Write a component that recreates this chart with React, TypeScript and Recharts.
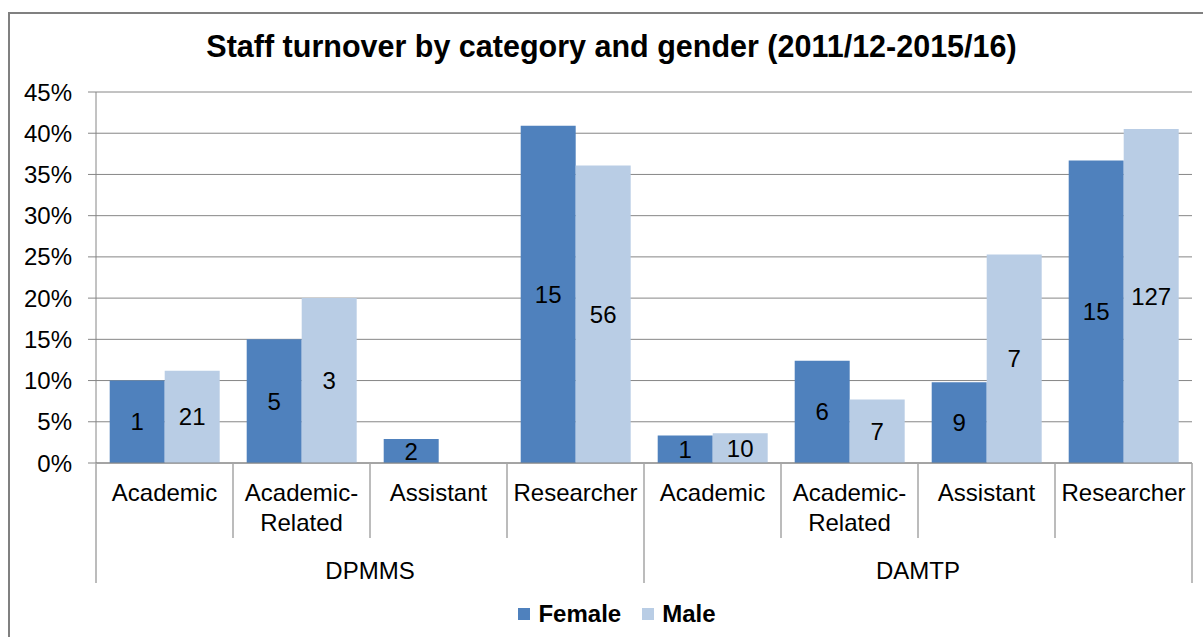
import { BarChart, Bar, XAxis, YAxis, CartesianGrid, LabelList } from 'recharts';

const FONT = '"Liberation Sans", Arial, sans-serif';
const GRID = '#868686';
const SEP = '#a6a6a6';

const GROUPS = ['DPMMS', 'DAMTP'];
const SUBCATS = ['Academic', 'Academic-Related', 'Assistant', 'Researcher'];
const FEMALE_PCT = [10, 15, 2.9, 40.9, 3.35, 12.4, 9.8, 36.7];
const MALE_PCT = [11.2, 20, 0, 36.1, 3.6, 7.7, 25.3, 40.5];
const FEMALE_N = [1, 5, 2, 15, 1, 6, 9, 15];
const MALE_N = [21, 3, null, 56, 10, 7, 7, 127];
const Y_TICKS = [0, 5, 10, 15, 20, 25, 30, 35, 40, 45];

const SERIES = [
  { key: 'female', name: 'Female', color: '#4F81BD' },
  { key: 'male', name: 'Male', color: '#B9CDE5' },
];

const data = GROUPS.flatMap((g, gi) =>
  SUBCATS.map((c, ci) => {
    const i = gi * SUBCATS.length + ci;
    return {
      key: `${g}|${c}`,
      group: g,
      cat: c,
      female: FEMALE_PCT[i],
      male: MALE_PCT[i],
      femaleN: FEMALE_N[i],
      maleN: MALE_N[i],
    };
  })
);

const W = 1203;
const H = 637;
const MARGIN = { top: 92, right: 11, bottom: 54, left: 0 };
const Y_WIDTH = 96;
const BAND = (W - MARGIN.left - MARGIN.right - Y_WIDTH) / data.length;

const CategoryTick = (props: any) => {
  const { x, y, payload } = props;
  const i: number = payload?.index ?? props.index ?? 0;
  const row = data[i];
  const lines = row.cat.includes('-') ? [row.cat.split('-')[0] + '-', row.cat.split('-')[1]] : [row.cat];
  const left = x - BAND / 2;
  const first = i % SUBCATS.length === 0;
  const last = i === data.length - 1;
  return (
    <g>
      <line x1={left} x2={left} y1={y} y2={y + (first ? 120 : 75)} stroke={SEP} strokeWidth={1.5} />
      {last && <line x1={x + BAND / 2} x2={x + BAND / 2} y1={y} y2={y + 120} stroke={SEP} strokeWidth={1.5} />}
      {lines.map((t, k) => (
        <text key={k} x={x} y={y + 38 + k * 30} textAnchor="middle" fill="#000" fontSize={24} fontFamily={FONT}>
          {t}
        </text>
      ))}
      {first && (
        <text x={left + (BAND * SUBCATS.length) / 2} y={y + 116} textAnchor="middle" fill="#000" fontSize={24} fontFamily={FONT}>
          {row.group}
        </text>
      )}
    </g>
  );
};

export default function App() {
  return (
    <div style={{ position: 'absolute', left: 0, top: 0, width: W, height: H, background: '#fff', overflow: 'hidden', fontFamily: FONT }}>
      <div style={{ position: 'absolute', left: 8, top: 12, width: W, height: H, borderTop: '2px solid #808080', borderLeft: '2px solid #808080' }} />
      <BarChart width={W} height={H} data={data} margin={MARGIN} barCategoryGap="10%" barGap={0}>
        <CartesianGrid vertical={false} stroke={GRID} />
        <XAxis
          dataKey="key"
          interval={0}
          tickLine={false}
          tickSize={0}
          tickMargin={0}
          height={120}
          axisLine={{ stroke: GRID }}
          tick={(p: any) => <CategoryTick {...p} />}
        />
        <YAxis
          width={Y_WIDTH}
          domain={[0, 45]}
          ticks={Y_TICKS}
          interval={0}
          tickFormatter={(v: number) => `${v}%`}
          tickSize={8}
          tickMargin={16}
          axisLine={{ stroke: GRID }}
          tickLine={{ stroke: GRID }}
          tick={{ fill: '#000', fontSize: 24, fontFamily: FONT }}
        />
        <Bar dataKey="female" name="Female" fill={SERIES[0].color} isAnimationActive={false}>
          <LabelList dataKey="femaleN" position="center" fill="#000" fontSize={24} fontFamily={FONT} />
        </Bar>
        <Bar dataKey="male" name="Male" fill={SERIES[1].color} isAnimationActive={false}>
          <LabelList dataKey="maleN" position="center" fill="#000" fontSize={24} fontFamily={FONT} />
        </Bar>
      </BarChart>
      <div style={{ position: 'absolute', left: 0, top: 31, width: 1223, textAlign: 'center', fontSize: 30.5, lineHeight: '31px', fontWeight: 'bold', color: '#000' }}>
        Staff turnover by category and gender (2011/12-2015/16)
      </div>
      <div style={{ position: 'absolute', left: 0, top: 601, width: 1234, display: 'flex', justifyContent: 'center', gap: 21, fontSize: 24, lineHeight: '26px', fontWeight: 'bold', color: '#000' }}>
        {SERIES.map((s) => (
          <div key={s.key} style={{ display: 'flex', alignItems: 'center', gap: 8 }}>
            <span style={{ display: 'inline-block', width: 12, height: 12, background: s.color }} />
            <span>{s.name}</span>
          </div>
        ))}
      </div>
    </div>
  );
}
